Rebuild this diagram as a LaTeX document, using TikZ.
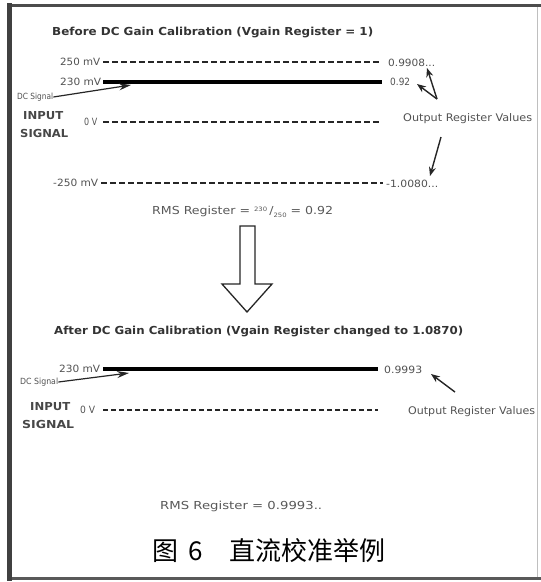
\documentclass[tikz,border=0pt]{standalone}
\usepackage{fontspec}
\usepackage{graphicx}
\setmainfont{DejaVu Sans}
\newfontfamily\cjkfont{Noto Sans CJK SC}
\usetikzlibrary{arrows.meta}
\newcommand\fw[2]{\resizebox{#1pt}{\height}{#2}}
\newcommand\smallnum[2]{{\fontsize{6}{6}\selectfont\raisebox{#1}{#2}}}
\begin{document}
\begin{tikzpicture}[x=1pt,y=-1pt,
  lbl/.style={inner sep=0pt, anchor=west, text=black!68, font=\fontsize{10}{12}\selectfont},
  ttl/.style={inner sep=0pt, anchor=west, text=black!80, font=\bfseries\fontsize{11}{13}\selectfont},
  inp/.style={inner sep=0pt, anchor=west, text=black!72, font=\bfseries\fontsize{11}{13}\selectfont},
  rms/.style={inner sep=0pt, anchor=west, text=black!65, font=\fontsize{11}{13}\selectfont},
  dline/.style={line width=2.2pt, dash pattern=on 6pt off 3pt, black!85},
  sline/.style={line width=4pt, black},
  parrow/.style={line width=1.4pt, -{Stealth[length=9pt,width=7pt]}, black!85},
  sarrow/.style={line width=1.2pt, -{Stealth[length=12pt,width=7pt]}, black!85},
]
\useasboundingbox (0,0) rectangle (541,582);
\fill[white] (0,0) rectangle (541,582);
% frame
\draw[line width=1pt, black!25] (537,5) -- (537,578);
\draw[line width=3pt, black!70] (10,5.5) -- (541,5.5);
\draw[line width=3pt, black!65] (10,578.5) -- (541,578.5);
\draw[line width=4.5pt, black!75] (9.5,3) -- (9.5,581);

% ---------- Before ----------
\node[ttl] (t1) at (52,33) {\fw{321}{Before DC Gain Calibration (Vgain Register = 1)}};

\node[lbl] (l250) at (60,62) {\fw{40}{250 mV}};
\coordinate (a250) at (103,62); \coordinate (b250) at (380,62);
\draw[dline] (a250) -- (b250);
\node[lbl] (v250) at (388,63) {\fw{47}{0.9908...}};

\node[lbl] (l230) at (60,82) {\fw{41}{230 mV}};
\coordinate (a230) at (103,82); \coordinate (b230) at (382,82);
\draw[sline] (a230) -- (b230);
\node[lbl] (v230) at (390,82) {\fw{20}{0.92}};

\node[lbl, font=\fontsize{8.5}{10}\selectfont] (dc1) at (17,97) {\fw{36}{DC Signal}};
\coordinate (dc1t) at (131,85);
\draw[sarrow] (dc1.east) -- (dc1t);

\node[inp] (in1) at (23,116) {\fw{40}{INPUT}};
\node[inp] (sg1) at (20,133) {\fw{48}{SIGNAL}};

\node[lbl] (l0) at (84,122) {\fw{13}{0 V}};
\coordinate (a0) at (103,122); \coordinate (b0) at (380,122);
\draw[dline] (a0) -- (b0);

\node[lbl, font=\fontsize{10.5}{12}\selectfont] (orv1) at (403,119) {\fw{129}{Output Register Values}};
\coordinate (o1) at (437,99);
\coordinate (o1a) at (427,68);
\coordinate (o1b) at (417,84);
\draw[parrow] (o1) -- (o1a);
\draw[parrow] (o1) -- (o1b);
\coordinate (o2) at (441,137);
\coordinate (o2a) at (430,176);
\draw[parrow] (o2) -- (o2a);

\node[lbl] (lm250) at (53,183) {\fw{45}{-250 mV}};
\coordinate (am250) at (101,183); \coordinate (bm250) at (383,183);
\draw[dline] (am250) -- (bm250);
\node[lbl] (vm250) at (386,184) {\fw{52}{-1.0080...}};

\node[rms] (rms1) at (152,212) {\fw{181}{RMS Register = \smallnum{3.5pt}{230}\,/\smallnum{-2.5pt}{250} = 0.92}};

% hollow arrow
\draw[line width=1.3pt, black!85, fill=white, line join=miter]
  (240,226) -- (255,226) -- (255,284) -- (272,284) -- (247,312) -- (222,284) -- (240,284) -- cycle;

% ---------- After ----------
\node[ttl] (t2) at (54,332) {\fw{409}{After DC Gain Calibration (Vgain Register changed to 1.0870)}};

\node[lbl] (l230b) at (59,369) {\fw{41}{230 mV}};
\coordinate (a230b) at (103,369); \coordinate (b230b) at (378,369);
\draw[sline] (a230b) -- (b230b);
\node[lbl] (v2) at (384,370) {\fw{38}{0.9993}};

\node[lbl, font=\fontsize{8.5}{10}\selectfont] (dc2) at (20,382) {\fw{38}{DC Signal}};
\coordinate (dc2t) at (129,373);
\draw[sarrow] (dc2.east) -- (dc2t);

\node[inp] (in2) at (30,407) {\fw{40}{INPUT}};
\node[inp] (sg2) at (22,424) {\fw{52}{SIGNAL}};

\node[lbl] (l0b) at (80,410) {\fw{15}{0 V}};
\coordinate (a0b) at (103,410); \coordinate (b0b) at (378,410);
\draw[dline, dash pattern=on 5pt off 3pt] (a0b) -- (b0b);

\node[lbl, font=\fontsize{10.5}{12}\selectfont] (orv2) at (408,412) {\fw{127}{Output Register Values}};
\coordinate (o3) at (455,392);
\coordinate (o3a) at (431,374);
\draw[parrow] (o3) -- (o3a);

\node[rms] (rms2) at (160,506) {\fw{162}{RMS Register = 0.9993..}};

% caption
\node[inner sep=0pt, anchor=west, font=\cjkfont\fontsize{26}{30}\selectfont] (cap1) at (152,551) {图};
\node[inner sep=0pt, anchor=west, font=\cjkfont\fontsize{26}{30}\selectfont] (cap2) at (188,551) {6};
\node[inner sep=0pt, anchor=west, font=\cjkfont\fontsize{26}{30}\selectfont] (cap3) at (229,551) {直流校准举例};
\end{tikzpicture}
\end{document}
